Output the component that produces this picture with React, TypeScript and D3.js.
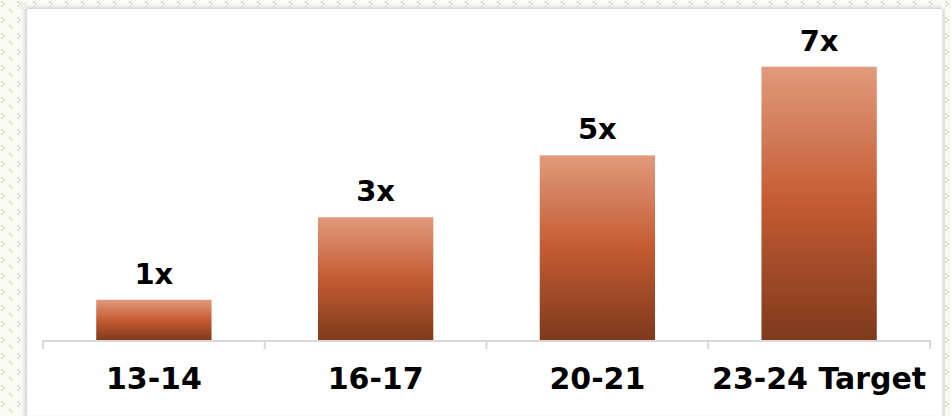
import React from "react";
import * as d3 from "d3";

const categories = ["13-14", "16-17", "20-21", "23-24 Target"];
const values = [1, 3, 4.5, 6.65];
const valueLabels = ["1x", "3x", "5x", "7x"];

const W = 951;
const H = 416;

export default function App() {
  const x = d3
    .scaleBand<string>()
    .domain(categories)
    .range([43, 930])
    .paddingInner(0.48)
    .paddingOuter(0.24);
  const y = d3.scaleLinear().domain([0, 8]).range([341, 11]);
  const step = x.step();
  const ticks = d3.range(categories.length + 1).map((i) => 43 + i * step);
  const font = "'DejaVu Sans', Verdana, sans-serif";

  return (
    <svg
      width={W}
      height={H}
      style={{ position: "absolute", left: 0, top: 0, display: "block" }}
    >
      <defs>
        <pattern id="dots" width="16" height="16" patternUnits="userSpaceOnUse">
          <rect width="16" height="16" fill="#fbfbf6" />
          <rect x="1" y="1" width="2" height="2" fill="#d9d9bf" />
          <rect x="3" y="3" width="2" height="2" fill="#d9d9bf" />
          <rect x="1" y="5" width="2" height="2" fill="#e3e3cf" />
          <rect x="9" y="9" width="2" height="2" fill="#d9d9bf" />
          <rect x="11" y="11" width="2" height="2" fill="#e3e3cf" />
        </pattern>
        <linearGradient id="barGrad" x1="0" y1="0" x2="0" y2="1">
          <stop offset="0%" stopColor="#e19a7c" />
          <stop offset="50%" stopColor="#c45b32" />
          <stop offset="100%" stopColor="#7d391c" />
        </linearGradient>
        <linearGradient id="shadowL" x1="0" y1="0" x2="1" y2="0">
          <stop offset="0%" stopColor="#ffffff" stopOpacity="0" />
          <stop offset="100%" stopColor="#cfcfcf" stopOpacity="0.9" />
        </linearGradient>
        <linearGradient id="shadowT" x1="0" y1="0" x2="0" y2="1">
          <stop offset="0%" stopColor="#ffffff" stopOpacity="0" />
          <stop offset="100%" stopColor="#cfcfcf" stopOpacity="0.9" />
        </linearGradient>
      </defs>
      <rect x={0} y={0} width={W} height={H} fill="url(#dots)" />
      <rect x={19} y={9} width={8} height={H - 9} fill="url(#shadowL)" />
      <rect x={27} y={2} width={915} height={7} fill="url(#shadowT)" />
      <rect x={19} y={2} width={8} height={7} fill="#e6e6e6" opacity={0.6} />
      <rect x={942} y={9} width={3} height={H - 9} fill="#e2e2e2" />
      <rect x={27} y={9} width={915} height={406} fill="#ffffff" />

      {categories.map((c, i) => (
        <g key={c}>
          <rect
            x={x(c)}
            y={y(values[i])}
            width={x.bandwidth()}
            height={y(0) - y(values[i])}
            fill="url(#barGrad)"
          />
          <text
            x={(x(c) as number) + x.bandwidth() / 2}
            y={y(values[i]) - 16}
            textAnchor="middle"
            fontFamily={font}
            fontWeight="bold"
            fontSize={29}
            fill="#000"
          >
            {valueLabels[i]}
          </text>
          <text
            x={(x(c) as number) + x.bandwidth() / 2}
            y={389}
            textAnchor="middle"
            fontFamily={font}
            fontWeight="bold"
            fontSize={30}
            fill="#000"
          >
            {c}
          </text>
        </g>
      ))}
      <line x1={43} x2={930} y1={341} y2={341} stroke="#d9d9d9" strokeWidth={2} />
      {ticks.map((t, i) => (
        <line key={i} x1={t} x2={t} y1={340} y2={349} stroke="#d9d9d9" strokeWidth={2} />
      ))}
    </svg>
  );
}
